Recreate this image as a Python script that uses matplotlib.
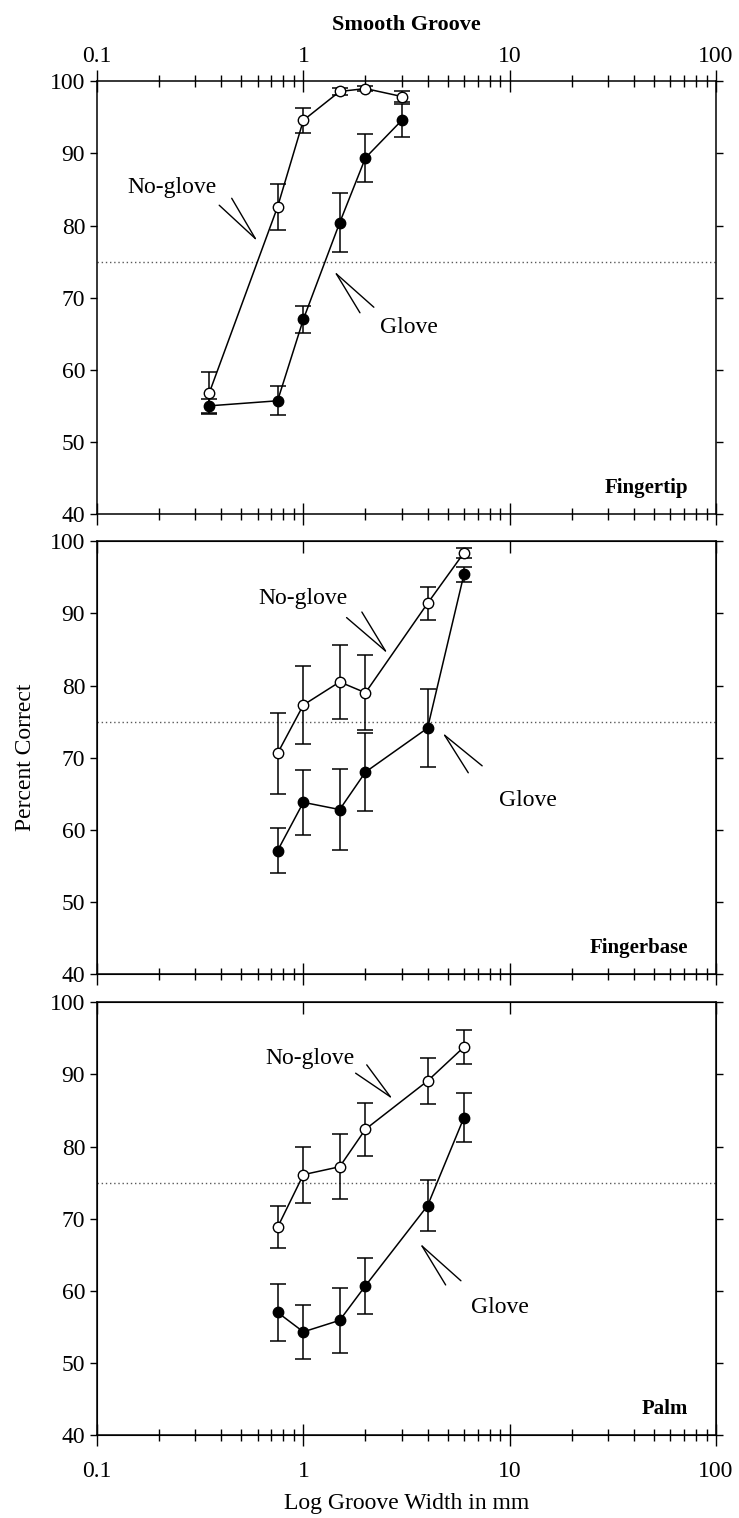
import numpy as np
import matplotlib.pyplot as plt
from matplotlib.ticker import LogLocator, FixedLocator, FuncFormatter, NullFormatter

plt.rcParams['font.family'] = ['Liberation Serif', 'DejaVu Serif']

# groove widths in mm
tip_x = [0.35, 0.75, 1.0, 1.5, 2.0, 3.0]
base_x = [0.75, 1.0, 1.5, 2.0, 4.0, 6.0]
palm_x = [0.75, 1.0, 1.5, 2.0, 4.0, 6.0]

# percent correct (mean, error)
tip_noglove = [56.8, 82.6, 94.6, 98.6, 99.0, 97.9]
tip_noglove_err = [2.9, 3.2, 1.7, 0.5, 0.4, 0.8]
tip_glove = [55.0, 55.7, 67.0, 80.4, 89.4, 94.6]
tip_glove_err = [1.0, 2.0, 1.9, 4.1, 3.3, 2.3]

base_noglove = [70.6, 77.3, 80.5, 79.0, 91.4, 98.4]
base_noglove_err = [5.6, 5.4, 5.1, 5.2, 2.3, 0.7]
base_glove = [57.1, 63.8, 62.8, 68.0, 74.1, 95.4]
base_glove_err = [3.1, 4.5, 5.6, 5.4, 5.4, 1.0]

palm_noglove = [68.8, 76.1, 77.2, 82.4, 89.1, 93.8]
palm_noglove_err = [2.9, 3.9, 4.5, 3.7, 3.2, 2.4]
palm_glove = [57.0, 54.3, 55.9, 60.7, 71.8, 84.0]
palm_glove_err = [3.9, 3.7, 4.5, 3.9, 3.5, 3.4]

site_names = ['Fingertip', 'Fingerbase', 'Palm']
threshold = 75

fig = plt.figure(figsize=(7.39, 15.18), dpi=100)
left, width, height = 0.1313, 0.8376, 0.2850
bottoms = [0.6614, 0.3584, 0.0547]

panels = [
    (tip_x, tip_noglove, tip_noglove_err, tip_glove, tip_glove_err),
    (base_x, base_noglove, base_noglove_err, base_glove, base_glove_err),
    (palm_x, palm_noglove, palm_noglove_err, palm_glove, palm_glove_err),
]

# (label, text position, arrow tip, two tail offsets in points)
notes = [
    [('No-glove', (0.232, 85.3), (0.585, 78.2), [(-26.0, 24.0), (-17.0, 29.0)]),
     ('Glove', (3.26, 65.8), (1.445, 73.3), [(27.0, -24.0), (17.0, -28.0)])],
    [('No-glove', (1.0, 92.1), (2.5, 84.8), [(-28.0, 24.0), (-17.0, 28.0)]),
     ('Glove', (12.3, 64.1), (4.84, 73.1), [(27.0, -22.0), (17.0, -27.0)])],
    [('No-glove', (1.08, 92.2), (2.64, 86.9), [(-25.0, 17.0), (-17.0, 23.0)]),
     ('Glove', (9.0, 57.7), (3.76, 66.2), [(28.0, -25.0), (17.0, -28.0)])],
]

fmt = FuncFormatter(lambda v, p: '%g' % v)

for i, (b, data) in enumerate(zip(bottoms, panels)):
    x, ng, ng_err, g, g_err = data
    ax = fig.add_axes([left, b, width, height])
    ax.set_xscale('log')
    ax.set_xlim(0.1, 100)
    ax.set_ylim(40, 100)

    ax.axhline(threshold, color='0.35', lw=1, ls=(0, (1, 2)))

    ax.errorbar(x, g, yerr=g_err, color='black', lw=1.1, capsize=6, capthick=1.1,
                marker='o', ms=7.5, mfc='black', mec='black', zorder=3)
    ax.errorbar(x, ng, yerr=ng_err, color='black', lw=1.1, capsize=6, capthick=1.1,
                marker='o', ms=7.5, mfc='white', mec='black', zorder=4)

    for label, txy, tip, tails in notes[i]:
        ax.text(txy[0], txy[1], label, fontsize=17, ha='center', va='center')
        for off in tails:
            ax.annotate('', xy=tip, xytext=off, textcoords='offset points',
                        arrowprops=dict(arrowstyle='-', lw=1, color='black',
                                        shrinkA=0, shrinkB=0))

    ax.text(0.955, 0.06, site_names[i], transform=ax.transAxes, fontsize=15,
            fontweight='bold', ha='right', va='center')

    ax.xaxis.set_major_locator(FixedLocator([0.1, 1, 10, 100]))
    ax.xaxis.set_minor_locator(LogLocator(base=10, subs=np.arange(2, 10)))
    ax.xaxis.set_major_formatter(fmt)
    ax.xaxis.set_minor_formatter(NullFormatter())
    ax.set_yticks(np.arange(40, 101, 10))

    ax.tick_params(axis='y', direction='out', length=5, width=1, left=True,
                   right=True, labelsize=17)
    ax.tick_params(axis='x', which='major', direction='inout', length=16, width=1,
                   labelsize=17, pad=2)
    ax.tick_params(axis='x', which='minor', direction='inout', length=8.5, width=1)

    if i == 0:
        ax.tick_params(axis='x', which='both', top=True, labeltop=True,
                       bottom=True, labelbottom=False)
        ax.set_title('Smooth Groove', fontsize=16, fontweight='bold', pad=12)
    else:
        top = ax.twiny()
        top.set_xscale('log')
        top.set_xlim(0.1, 100)
        top.xaxis.set_major_locator(FixedLocator([0.1, 1, 10, 100]))
        top.xaxis.set_minor_locator(FixedLocator([]))
        top.xaxis.set_major_formatter(NullFormatter())
        top.tick_params(axis='x', direction='in', length=8.5, width=1,
                        labeltop=False)
        ax.tick_params(axis='x', which='both', top=False, labeltop=False,
                       bottom=True)
    if i == 2:
        ax.tick_params(axis='x', which='both', labelbottom=True, pad=11)
        ax.set_xlabel('Log Groove Width in mm', fontsize=17, labelpad=8)
    elif i > 0:
        ax.tick_params(axis='x', which='both', labelbottom=False)
    if i == 1:
        ax.set_ylabel('Percent Correct', fontsize=17, labelpad=10)

    for s in ax.spines.values():
        s.set_linewidth(1.1)

fig.savefig('out.png', dpi=100)
